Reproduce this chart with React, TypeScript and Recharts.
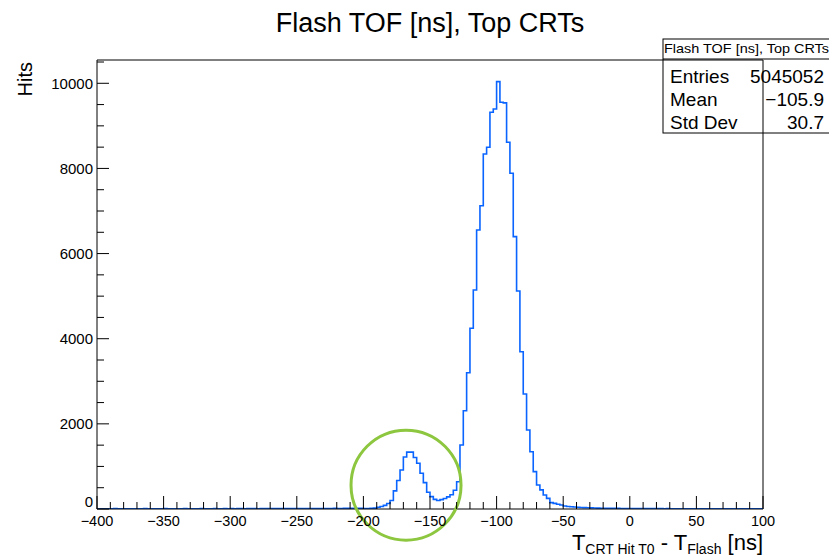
import React from "react";
import {
  ComposedChart,
  Line,
  XAxis,
  YAxis,
  ReferenceLine,
  ReferenceDot,
  Customized,
} from "recharts";

// bin contents, 2.5 ns bins from -400 to 100 ns
const leftCounts = [
  6, 5, 7, 6, 5, 8, 6, 7, 5, 6,
  7, 6, 5, 7, 8, 6, 5, 6, 7, 6,
  8, 7, 6, 5, 7, 6, 8, 7, 6, 7,
  6, 8, 7, 6, 7, 9, 7, 6, 8, 7,
  8, 7, 9, 8, 7, 8, 9, 8, 7, 9,
  8, 10, 9, 8, 9, 10, 11, 9, 10, 11,
  10, 12, 11, 10, 12, 11, 13, 12, 11, 13,
  12, 14, 13, 12, 14, 15, 14, 16, 15, 17,
]; // -400 .. -202.5
const bumpCounts = [
  11, 13, 16, 20, 40, 60, 85, 130, 200, 425,
  670, 915, 1220, 1335, 1335, 1210, 1075, 840, 620, 395,
  290, 227, 198, 220, 245, 285, 335, 440,
]; // -200 .. -132.5
const peakCounts = [
  641, 1503, 2309, 3202, 4245, 5145, 6554, 7125, 8339, 8497,
  9318, 9396, 10038, 9553, 9540, 8614, 7886, 6397, 5121, 3695,
  2701, 1856, 1346, 877, 564, 450, 330, 250,
]; // -130 .. -62.5
const tailCounts = [
  150, 132, 110, 94, 70, 58, 52, 46, 40, 36,
  32, 29, 26, 24, 21, 19, 18, 17, 16, 15,
  14, 13, 12, 12, 11, 10, 10, 9, 9, 10,
  8, 9, 8, 8, 7, 8, 7, 7, 6, 7,
  6, 7, 6, 6, 5, 6, 6, 5, 6, 5,
  5, 6, 5, 5, 4, 5, 5, 4, 5, 4,
  4, 5, 4, 4,
]; // -60 .. 97.5

const counts = [...leftCounts, ...bumpCounts, ...peakCounts, ...tailCounts];
const binLow = -400;
const binWidth = 2.5;
const xMax = 100;

const data = counts.map((c, i) => ({ x: binLow + i * binWidth, hits: c }));
data.push({ x: xMax, hits: counts[counts.length - 1] });

const xMajorTicks = [-400, -350, -300, -250, -200, -150, -100, -50, 0, 50, 100];
const yMajorTicks = [0, 2000, 4000, 6000, 8000, 10000];
const xTicks: number[] = [];
for (let v = -400; v <= 100; v += 10) xTicks.push(v);
const yTicks: number[] = [];
for (let v = 0; v <= 10500; v += 500) yTicks.push(v);
const yTop = 10547;

const statsTitle = "Flash TOF [ns], Top CRTs";
const statsRows = [
  ["Entries", "5045052"],
  ["Mean", "\u2212105.9"],
  ["Std Dev", "30.7"],
];

const FONT = "'Liberation Sans', Arial, Helvetica, sans-serif";

const fmt = (v: number) => (v < 0 ? "\u2212" + Math.abs(v) : String(v));

const XTick = (props: any) => {
  const { x, y, payload } = props;
  const v = payload.value;
  const major = xMajorTicks.includes(v);
  return (
    <g>
      <line x1={x} x2={x} y1={y} y2={y - (major ? 13 : 7)} stroke="#000" strokeWidth={1} />
      {major && (
        <text x={x} y={y + 17} textAnchor="middle" fontSize={14.5} fontFamily={FONT} fill="#000">
          {fmt(v)}
        </text>
      )}
    </g>
  );
};

const YTick = (props: any) => {
  const { x, y, payload } = props;
  const v = payload.value;
  const major = yMajorTicks.includes(v);
  return (
    <g>
      <line x1={x} x2={x + (major ? 12 : 7)} y1={y} y2={y} stroke="#000" strokeWidth={1} />
      {major && (
        <text
          x={x - 4}
          y={v === 0 ? y - 7 : y}
          dy="0.35em"
          textAnchor="end"
          fontSize={15}
          fontFamily={FONT}
          fill="#000"
        >
          {v}
        </text>
      )}
    </g>
  );
};

const Overlay = () => (
  <g fontFamily={FONT} fill="#000">
    <text x={430} y={32} textAnchor="middle" fontSize={27}>
      Flash TOF [ns], Top CRTs
    </text>
    <text x={32} y={62} textAnchor="end" fontSize={20} transform="rotate(-90 32 62)">
      Hits
    </text>
    <text x={763} y={550} textAnchor="end" fontSize={22}>
      T
      <tspan fontSize={14} dy={4}>CRT Hit T0</tspan>
      <tspan fontSize={22} dy={-4}> - T</tspan>
      <tspan fontSize={14} dy={4}>Flash</tspan>
      <tspan fontSize={22} dy={-4}> [ns]</tspan>
    </text>
    <rect x={663} y={39} width={170} height={94} fill="#fff" stroke="#000" strokeWidth={1} />
    <line x1={663} x2={829} y1={59} y2={59} stroke="#000" strokeWidth={1} />
    <text x={664} y={53} fontSize={13} textLength={165} lengthAdjust="spacingAndGlyphs">
      {statsTitle}
    </text>
    {statsRows.map((r, i) => (
      <g key={r[0]}>
        <text x={670} y={83} dy={i * 23} fontSize={19}>
          {r[0]}
        </text>
        <text x={824} y={83} dy={i * 23} fontSize={19} textAnchor="end">
          {r[1]}
        </text>
      </g>
    ))}
  </g>
);

export default function App() {
  return (
    <div style={{ position: "absolute", left: 0, top: 0, width: 829, height: 558, background: "#fff" }}>
      <ComposedChart
        width={829}
        height={558}
        data={data}
        margin={{ top: 60, right: 66, bottom: 19, left: 37 }}
      >
        <XAxis
          dataKey="x"
          type="number"
          domain={[-400, 100]}
          ticks={xTicks}
          interval={0}
          tickLine={false}
          tickSize={0}
          tickMargin={0}
          tick={<XTick />}
          height={30}
          axisLine={{ stroke: "#000" }}
          allowDataOverflow
        />
        <YAxis
          type="number"
          domain={[0, yTop]}
          ticks={yTicks}
          interval={0}
          tickLine={false}
          tickSize={0}
          tickMargin={0}
          tick={<YTick />}
          width={60}
          axisLine={{ stroke: "#000" }}
          allowDataOverflow
        />
        <ReferenceLine y={yTop} stroke="#000" strokeWidth={1} ifOverflow="visible" />
        <ReferenceLine x={xMax} stroke="#000" strokeWidth={1} ifOverflow="visible" />
        <Line
          dataKey="hits"
          type="stepAfter"
          stroke="#0a64ff"
          strokeWidth={1.6}
          dot={false}
          isAnimationActive={false}
        />
        <ReferenceDot
          x={-168}
          y={560}
          r={55}
          fill="none"
          stroke="#8dc63f"
          strokeWidth={3}
          ifOverflow="visible"
        />
        <Customized component={Overlay} />
      </ComposedChart>
    </div>
  );
}
